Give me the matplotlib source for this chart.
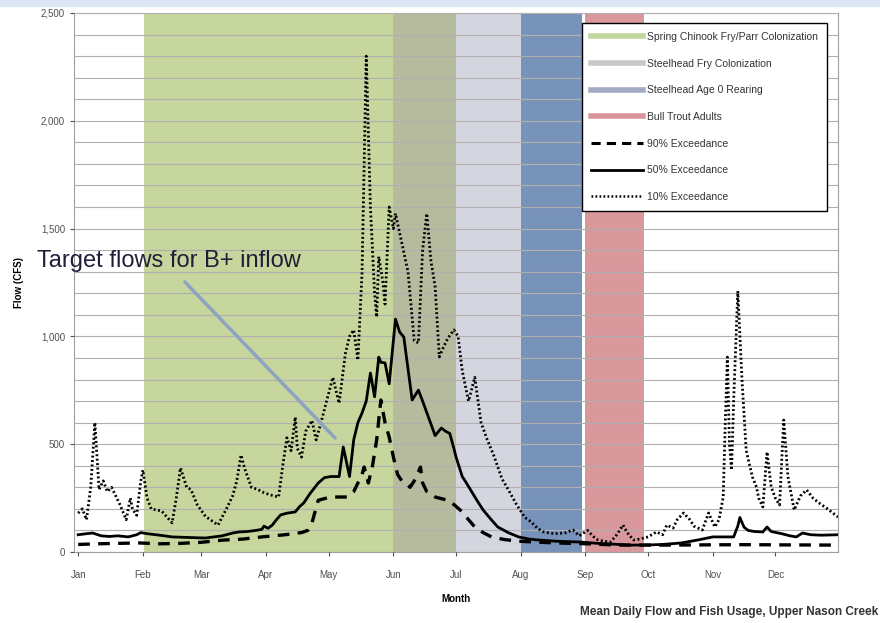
import matplotlib.pyplot as plt
from matplotlib.lines import Line2D
from matplotlib.patches import Rectangle
from matplotlib.ticker import FuncFormatter, MultipleLocator

plt.rcParams['font.family'] = ['Liberation Sans', 'DejaVu Sans']

# day of year / flow (cfs)
dias10 = [1, 3, 5, 7, 9, 11, 13, 15, 17, 19, 21, 24, 26, 27, 29, 31, 32, 34, 36, 41, 46, 48, 50, 53, 55,
          58, 62, 68, 72, 75, 77, 79, 81, 84, 87, 90, 93, 97, 99, 101, 103, 105, 106, 108, 110, 113, 115,
          118, 120, 123, 126, 129, 131, 133, 135, 137, 139, 141, 143, 144, 145, 147, 148, 150, 152, 153,
          155, 157, 159, 162, 164, 166, 168, 170, 172, 174, 176, 178, 181, 183, 185, 188, 191, 194, 197,
          200, 204, 207, 211, 215, 218, 221, 224, 229, 234, 238, 241, 245, 248, 250, 253, 256, 259, 262,
          264, 267, 270, 274, 278, 281, 283, 286, 288, 291, 294, 296, 300, 303, 306, 308, 310, 311, 312,
          313, 314, 315, 317, 319, 321, 322, 324, 326, 327, 329, 331, 333, 335, 337, 339, 341, 344, 347,
          350, 353, 356, 360, 365]
vazao10 = [180, 200, 150, 300, 600, 290, 330, 280, 300, 260, 220, 150, 250, 200, 170, 330, 380, 250, 200,
           190, 135, 250, 390, 300, 290, 220, 165, 125, 200, 260, 330, 450, 380, 300, 290, 275, 265, 255,
           400, 530, 470, 625, 480, 440, 560, 610, 520, 625, 700, 810, 690, 920, 1000, 1030, 890, 1300,
           2300, 1600, 1200, 1090, 1370, 1250, 1150, 1600, 1500, 1570, 1480, 1390, 1300, 980, 970, 1400,
           1570, 1350, 1230, 905, 950, 990, 1030, 1000, 840, 700, 810, 600, 520, 450, 340, 290, 220, 160,
           140, 110, 93, 85, 88, 102, 75, 100, 70, 56, 50, 46, 80, 125, 90, 56, 60, 70, 93, 80, 125, 111,
           150, 181, 150, 120, 102, 181, 116, 150, 255, 600, 904, 500, 380, 700, 1210, 800, 473, 430, 348,
           300, 250, 209, 464, 301, 250, 218, 612, 350, 195, 260, 288, 250, 227, 200, 162]

dias50 = [1, 5, 8, 12, 16, 20, 25, 29, 31, 34, 40, 46, 52, 58, 62, 66, 70, 75, 78, 82, 86, 89, 90, 92, 94,
          96, 98, 101, 105, 107, 109, 112, 116, 119, 122, 126, 127, 128, 131, 133, 135, 137, 139, 141, 143,
          145, 146, 148, 150, 153, 155, 157, 159, 161, 164, 166, 169, 172, 175, 177, 179, 181, 182, 185,
          187, 189, 192, 195, 198, 202, 207, 212, 217, 221, 230, 242, 250, 258, 266, 275, 281, 290, 298,
          305, 315, 317, 318, 320, 322, 325, 329, 331, 333, 338, 342, 345, 348, 352, 357, 361, 365]
vazao50 = [80, 85, 88, 75, 72, 75, 70, 80, 90, 85, 78, 70, 68, 66, 65, 70, 75, 88, 93, 95, 100, 105, 120,
           110, 125, 150, 172, 180, 186, 210, 227, 270, 320, 345, 350, 350, 420, 487, 350, 520, 600, 645,
           700, 830, 720, 904, 880, 877, 780, 1080, 1020, 997, 850, 705, 751, 700, 620, 540, 575, 560, 550,
           480, 441, 350, 320, 288, 240, 195, 160, 116, 90, 70, 60, 56, 50, 46, 40, 36, 32, 33, 35, 42, 56,
           70, 70, 120, 160, 115, 100, 95, 93, 116, 95, 85, 75, 70, 88, 80, 78, 79, 80]

dias90 = [1, 10, 20, 30, 40, 50, 60, 70, 80, 89, 100, 108, 111, 113, 116, 122, 130, 133, 135, 137, 138,
          140, 142, 144, 146, 148, 150, 152, 154, 156, 158, 160, 162, 165, 166, 168, 172, 176, 178, 181,
          184, 188, 191, 195, 199, 205, 212, 220, 230, 245, 260, 280, 300, 320, 340, 365]
vazao90 = [35, 38, 40, 42, 38, 40, 45, 55, 60, 70, 80, 90, 100, 135, 240, 255, 255, 280, 320, 360, 394,
           320, 400, 520, 705, 600, 533, 441, 360, 330, 320, 300, 330, 394, 320, 280, 255, 245, 241, 220,
           195, 150, 116, 90, 70, 58, 50, 46, 42, 38, 32, 32, 33, 34, 33, 32]

meses = ['Jan', 'Feb', 'Mar', 'Apr', 'May', 'Jun', 'Jul', 'Aug', 'Sep', 'Oct', 'Nov', 'Dec']
inicio_mes = [1, 32, 60, 91, 121, 152, 182, 213, 244, 274, 305, 335]

# periodos de uso (inicio, fim, cor)
faixas = [(32.5, 152, '#c6d69c'),
          (152, 182, '#b7bb9e'),
          (182, 213, '#d4d6df'),
          (213, 242.5, '#7893b9'),
          (244, 272, '#d8989c')]

fig = plt.figure(figsize=(8.8, 6.23), dpi=100)
fig.patches.append(Rectangle((0, 0.99), 1, 0.01, transform=fig.transFigure, color='#dce6f2', zorder=0))
ax = fig.add_axes([74/880, 71/623, 764/880, 539/623])

for ini, fim, cor in faixas:
    ax.axvspan(ini, fim, color=cor, lw=0, zorder=0)

ax.plot(dias10, vazao10, color='black', lw=2, linestyle=(0, (0.7, 0.9)), zorder=3)
ax.plot(dias50, vazao50, color='black', lw=2, zorder=3)
ax.plot(dias90, vazao90, color='black', lw=2.4, linestyle=(0, (3.5, 2.5)), zorder=3)

ax.set_xlim(-1, 365)
ax.set_ylim(0, 2500)
ax.yaxis.set_major_locator(MultipleLocator(500))
ax.yaxis.set_minor_locator(MultipleLocator(100))
ax.yaxis.set_major_formatter(FuncFormatter(lambda v, p: f'{int(v):,}'))
ax.grid(axis='y', which='both', color='#b0b0b0', lw=0.8, zorder=1)
ax.set_axisbelow(False)
ax.set_xticks(inicio_mes)
ax.set_xticklabels(meses)
ax.tick_params(axis='both', labelsize=7, colors='#505050', length=3)
ax.tick_params(axis='x', pad=10)
ax.tick_params(axis='y', which='minor', length=0)
for s in ax.spines.values():
    s.set_color('#a0a0a0')

ax.set_xlabel('Month', fontsize=7, fontweight='bold', labelpad=10)
ax.set_ylabel('Flow (CFS)', fontsize=7, fontweight='bold', labelpad=12)

handles = [Line2D([], [], color='#c3d69b', lw=4),
           Line2D([], [], color='#c8c8c8', lw=4),
           Line2D([], [], color='#a4aac4', lw=4),
           Line2D([], [], color='#d9969a', lw=4),
           Line2D([], [], color='black', lw=2.2, linestyle=(0, (3, 2))),
           Line2D([], [], color='black', lw=2),
           Line2D([], [], color='black', lw=1.8, linestyle=(0, (0.7, 0.9)))]
rotulos = ['Spring Chinook Fry/Parr Colonization', 'Steelhead Fry Colonization',
           'Steelhead Age 0 Rearing', 'Bull Trout Adults',
           '90% Exceedance', '50% Exceedance', '10% Exceedance']
leg = ax.legend(handles, rotulos, loc='upper right', bbox_to_anchor=(0.993, 0.992), fontsize=7.5,
                labelspacing=1.6, handlelength=5, fancybox=False, framealpha=1,
                borderpad=0.9, handletextpad=0.4)
leg.get_frame().set_edgecolor('black')
leg.get_frame().set_linewidth(1)
for t in leg.get_texts():
    t.set_color('#333333')

ax.annotate('', xy=(337/880, 1 - 440/623), xycoords='figure fraction',
            xytext=(183/880, 1 - 280/623), textcoords='figure fraction',
            arrowprops=dict(arrowstyle='-', color='#8ea2c2', lw=2.5), zorder=4)
fig.text(37/880, 1 - 267/623, 'Target flows for B+ inflow', fontsize=17, color='#1f1f3a', va='baseline')

fig.text(878/880, 1 - 612/623, 'Mean Daily Flow and Fish Usage, Upper Nason Creek', fontsize=8.5,
         fontweight='bold', color='#333333', ha='right', va='center')

plt.savefig('out.png', dpi=100)
plt.close()
